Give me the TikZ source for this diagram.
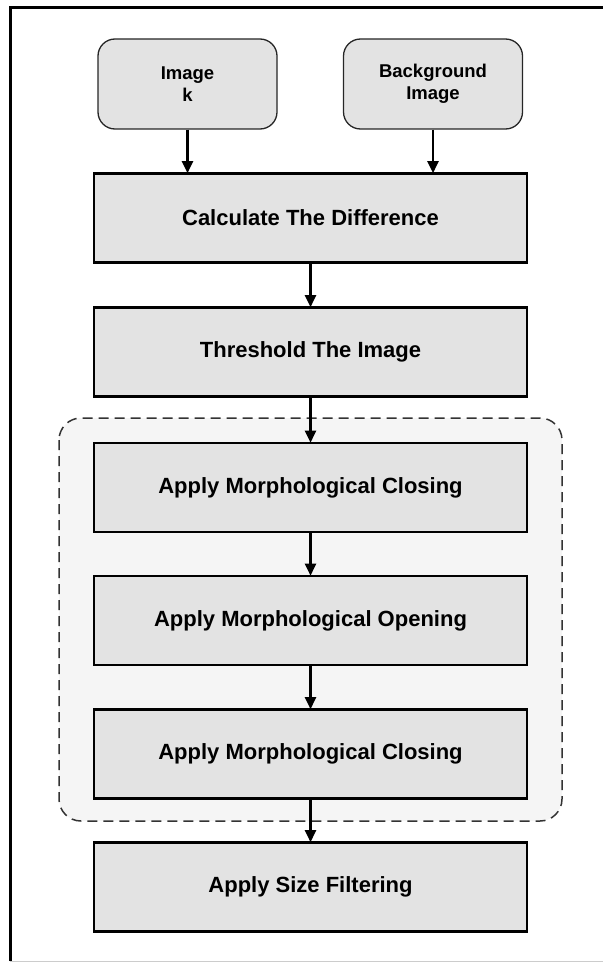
\documentclass[tikz,border=0pt]{standalone}
\usepackage{fontspec}
\setmainfont{Liberation Sans}
\usetikzlibrary{arrows.meta,positioning}

\tikzset{
  source/.style={draw=black!85, line width=1.3pt, fill=black!11, rounded corners=17pt,
    minimum width=179pt, minimum height=90pt, align=center, inner sep=0pt,
    font=\fontsize{18.5}{22}\selectfont\bfseries},
  stage/.style={draw=black, line width=2.6pt, fill=black!11,
    minimum width=433pt, minimum height=89pt, align=center, inner sep=0pt,
    font=\fontsize{22}{26}\selectfont\bfseries},
  flow/.style={line width=2.4pt, -{Triangle[length=12pt,width=11pt]}, shorten >=-1pt},
  group/.style={draw=black!80, line width=1.5pt, fill=black!4, dash pattern=on 10pt off 6pt,
    rounded corners=22pt},
}

\begin{document}
\begin{tikzpicture}[x=1pt,y=-1pt]
  \useasboundingbox (0,0) rectangle (603,963);

  % outer frame
  \draw[line width=3pt] (10,961) -- (10,8) -- (603,8);
  \draw[black!20, line width=1pt] (10,961.5) -- (603,961.5);

  % morphological post-processing group
  \draw[group] (59,418) rectangle (562,821);

  % inputs
  \node[source] (imgk) at (187.5,84) {Image\\k};
  \node[source] (bg)   at (433,84)   {Background\\Image};

  % processing chain
  \node[stage] (calc)   at (310.5,218)   {Calculate The Difference};
  \node[stage] (thr)    at (310.5,352)   {Threshold The Image};
  \node[stage] (close1) at (310.5,487.5) {Apply Morphological Closing};
  \node[stage] (open)   at (310.5,620.5) {Apply Morphological Opening};
  \node[stage] (close2) at (310.5,754)   {Apply Morphological Closing};
  \node[stage] (size)   at (310.5,887)   {Apply Size Filtering};

  \draw[flow] (imgk) -- (imgk |- calc.north);
  \draw[flow] (bg)   -- (bg |- calc.north);
  \draw[flow] (calc) -- (thr);
  \draw[flow] (thr)  -- (close1);
  \draw[flow] (close1) -- (open);
  \draw[flow] (open) -- (close2);
  \draw[flow] (close2) -- (size);
\end{tikzpicture}
\end{document}
